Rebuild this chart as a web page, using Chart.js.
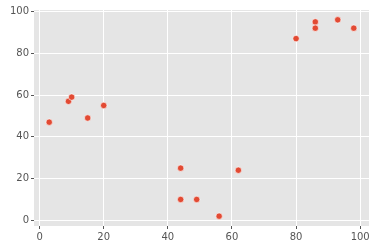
<!DOCTYPE html>
<html lang="en">
<head>
    <meta charset="UTF-8">
    <title>Scatter</title>
    <script src="https://cdn.jsdelivr.net/npm/chart.js"></script>
    <style>
        * { margin: 0; padding: 0; box-sizing: border-box; }
        body { background: #ffffff; width: 375px; height: 251px; overflow: hidden; }
        .chart-container { position: relative; width: 375px; height: 251px; }
    </style>
</head>
<body>
    <div class="chart-container">
        <canvas id="scatterChart"></canvas>
    </div>

    <script>
        // data
        const xValues = [3, 9, 10, 15, 20, 44, 62, 44, 49, 56, 80, 86, 86, 93, 98];
        const yValues = [47, 57, 59, 49, 55, 25, 24, 10, 10, 2, 87, 95, 92, 96, 92];
        const tickValues = [0, 20, 40, 60, 80, 100];

        const points = xValues.map((x, i) => ({ x: x, y: yValues[i] }));

        // grey panel behind the plot area
        const panelBg = {
            id: 'panelBg',
            beforeDraw(chart) {
                const a = chart.chartArea;
                const ctx = chart.ctx;
                ctx.save();
                ctx.fillStyle = '#e5e5e5';
                ctx.fillRect(a.left, a.top, a.right - a.left, a.bottom - a.top);
                ctx.restore();
            }
        };

        const tickFont = { family: "'DejaVu Sans', sans-serif", size: 10 };

        function fixedTicks(axis) {
            axis.ticks = tickValues.map(v => ({ value: v }));
        }

        new Chart(document.getElementById('scatterChart'), {
            type: 'scatter',
            data: {
                datasets: [{
                    data: points,
                    backgroundColor: '#e24a33',
                    borderColor: '#ffffff',
                    borderWidth: 0.6,
                    pointRadius: 3.2,
                    pointHoverRadius: 3.2
                }]
            },
            options: {
                responsive: true,
                maintainAspectRatio: false,
                animation: false,
                layout: { padding: { top: 10, right: 6, left: 0, bottom: 0 } },
                plugins: {
                    legend: { display: false },
                    tooltip: { enabled: false }
                },
                scales: {
                    x: {
                        type: 'linear',
                        min: -1.75,
                        max: 102.75,
                        afterBuildTicks: fixedTicks,
                        afterFit: (axis) => { axis.height = 25; },
                        border: { display: false },
                        grid: { color: '#ffffff', lineWidth: 1, tickColor: '#555555', tickLength: 3 },
                        ticks: { color: '#555555', font: tickFont, padding: 2, maxRotation: 0 }
                    },
                    y: {
                        type: 'linear',
                        min: -2.7,
                        max: 100.7,
                        afterBuildTicks: fixedTicks,
                        afterFit: (axis) => { axis.width = 34; },
                        border: { display: false },
                        grid: { color: '#ffffff', lineWidth: 1, tickColor: '#555555', tickLength: 3 },
                        ticks: { color: '#555555', font: tickFont, padding: 2 }
                    }
                }
            },
            plugins: [panelBg]
        });
    </script>
</body>
</html>
